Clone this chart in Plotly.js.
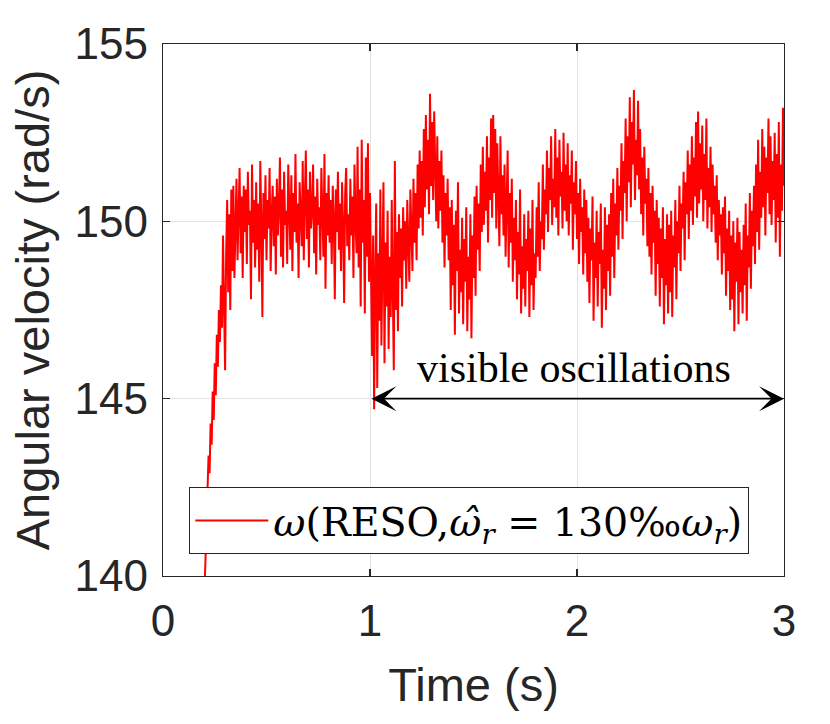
<!DOCTYPE html>
<html>
<head>
<meta charset="utf-8">
<script src="https://cdn.plot.ly/plotly-3.0.1.min.js"></script>
<style>
  html, body { margin: 0; padding: 0; background: #fff; }
  #chart { width: 830px; height: 724px; }
</style>
</head>
<body>
<div id="chart"></div>
<script>
// Sampling of the measured speed (s)
const tStart = 0.18;
const tStep = 0.005;

// rad/s
const riseValues = [134.5, 136.0, 137.2, 138.6, 139.5, 140.4, 141.6, 142.3, 143.4, 142.9, 144.3, 143.7,
  145.2, 144.4, 146.0, 145.1, 146.8, 145.9, 147.5, 146.6, 148.2, 147.0, 149.6, 147.6,
  145.8, 149.1, 150.6, 148.0, 150.2, 147.5, 150.9, 148.6, 151.0, 148.4];

const steadyValues = [
  149.6, 151.2, 148.9, 150.4, 151.5, 149.1, 150.7, 148.4, 151.0, 149.7,
  150.9, 148.8, 151.4, 149.9, 150.3, 147.8, 151.6, 149.4, 150.6, 148.7,
  151.1, 149.2, 150.5, 148.3, 151.7, 150.0, 147.3, 150.8, 149.5, 151.3,
  148.9, 150.6, 149.8, 151.5, 148.6, 150.2, 151.0, 149.3, 150.7, 148.5,
  151.2, 149.6, 150.4, 151.8, 149.0, 150.9, 148.7, 151.4, 149.9, 150.3,
  148.8, 151.6, 150.1, 149.2, 151.3, 148.6, 150.8, 149.7, 151.9, 149.4,
  150.5, 148.4, 151.1, 150.0, 149.3, 151.7, 148.9, 150.6, 152.0, 149.5,
  150.9, 148.7, 151.4, 149.8, 150.3, 151.6, 149.1, 150.7, 148.5, 151.2,
  149.9, 150.4, 148.9, 151.5, 150.2, 149.0, 151.9, 148.1, 150.8, 149.6,
  151.3, 149.4, 150.6, 148.8, 151.0, 150.1, 147.8, 150.9, 149.7, 151.4,
  149.2, 150.5, 148.6, 151.1, 149.9, 147.7, 150.8, 151.5, 149.3, 150.2,
  148.9, 151.2, 149.6, 150.7, 148.4, 151.6, 150.0, 149.1, 152.1, 148.7,
  150.9, 147.6, 152.3, 149.4, 150.6, 147.4, 151.8, 149.0, 152.2, 148.3];

const transitionValues = [
  150.8, 147.9, 146.2, 149.6, 144.7, 148.4, 150.5, 145.3, 149.1, 147.2,
  150.9, 146.5, 148.8, 151.1, 146.0, 149.4, 147.6, 150.3, 146.4, 149.0,
  147.3, 150.6, 148.1, 145.8, 151.7, 147.5, 149.7, 146.9, 150.2, 148.4,
  149.8, 147.6, 150.4, 148.9, 150.0, 148.1, 150.6, 149.2, 148.3, 150.9];

const oscillationValues = [
  149.7, 148.6, 151.2, 149.4, 150.8, 148.9, 151.6, 149.8, 152.0, 150.1,
  151.7, 149.6, 152.6, 150.4, 153.0, 150.9, 152.3, 150.2, 153.6, 151.0,
  152.8, 150.6, 153.1, 151.3, 150.0, 152.4, 149.8, 151.7, 150.3, 152.0,
  149.4, 151.3, 148.7, 150.8, 149.6, 151.2, 148.9, 150.4, 147.5, 150.6,
  148.2, 149.9, 146.8, 150.3, 148.6, 151.1, 147.4, 149.2, 148.0, 150.1,
  147.1, 149.5, 148.3, 150.4, 146.9, 149.0, 147.8, 150.2, 146.7, 149.6,
  148.4, 150.7, 147.9, 151.0, 149.2, 150.5, 148.6, 151.6, 149.7, 152.1,
  149.9, 151.4, 150.3, 152.4, 149.4, 151.8, 150.6, 152.9, 150.1, 153.0,
  150.8, 152.6, 149.8, 152.2, 151.0, 149.3, 152.4, 150.2, 151.3, 149.6,
  151.6, 149.0, 150.5, 152.0, 148.7, 150.8, 149.4, 151.2, 148.3, 150.1,
  148.9, 150.6, 147.8, 149.7, 148.5, 150.9, 147.4, 149.3, 148.1, 150.2,
  147.6, 149.5, 148.6, 150.3, 147.3, 149.8, 148.2, 150.6, 147.5, 149.1,
  148.4, 150.4, 149.0, 151.1, 148.6, 150.0, 149.5, 151.6, 149.2, 150.9,
  150.2, 152.0, 149.7, 151.5, 150.6, 152.4, 149.9, 151.2, 150.4, 152.6,
  150.1, 151.8, 149.6, 152.3, 150.7, 151.4, 149.8, 152.5, 150.3, 151.6,
  150.0, 152.2, 149.6, 151.3, 150.5, 152.0, 149.2, 151.1, 150.2, 151.7,
  149.5, 150.8, 148.8, 151.2, 149.7, 150.4, 148.5, 150.9, 149.1, 150.6,
  148.3, 150.1, 147.7, 149.8, 148.9, 150.7, 147.2, 149.4, 148.4, 150.3,
  147.6, 149.7, 148.8, 150.5, 147.0, 149.2, 148.1, 150.4, 147.5, 149.9,
  148.6, 150.2, 147.9, 150.8, 149.0, 151.2, 148.4, 150.5, 149.6, 151.5,
  149.2, 151.0, 150.3, 152.2, 149.5, 151.7, 150.8, 152.9, 150.0, 152.4,
  151.1, 153.5, 150.4, 152.8, 151.6, 153.7, 150.6, 152.3, 151.3, 153.4,
  150.9, 152.6, 150.2, 151.8, 149.6, 152.1, 150.5, 151.2, 149.3, 151.5,
  149.0, 150.8, 148.5, 151.0, 149.4, 150.3, 147.9, 150.6, 148.8, 150.1,
  147.6, 149.8, 148.4, 150.4, 147.1, 149.5, 148.2, 150.2, 147.4, 149.9,
  148.0, 150.3, 147.3, 149.6, 148.7, 150.6, 147.8, 150.0, 149.1, 151.0,
  148.6, 150.5, 149.8, 151.4, 148.9, 151.1, 150.2, 152.0, 149.5, 151.6,
  150.3, 152.4, 149.9, 151.8, 150.7, 152.8, 150.1, 153.1, 150.5, 152.2,
  150.9, 152.7, 150.0, 151.9, 150.6, 152.9, 149.8, 151.5, 150.4, 152.1,
  149.7, 151.6, 150.2, 151.0, 149.4, 151.3, 148.9, 150.6, 149.6, 150.2,
  148.5, 150.4, 149.1, 150.7, 147.9, 149.8, 148.6, 150.3, 147.5, 149.6,
  147.8, 150.0, 146.9, 149.4, 148.3, 150.1, 147.1, 149.7, 148.0, 149.2,
  147.4, 149.9, 148.2, 150.5, 147.2, 149.6, 148.7, 150.8, 148.1, 150.3,
  149.3, 151.0, 148.8, 151.6, 149.7, 152.3, 149.2, 151.4, 150.1, 152.6,
  150.4, 152.1, 149.6, 151.8, 150.8, 152.9, 150.2, 152.4, 149.9, 151.7,
  150.6, 152.5, 149.4, 151.9, 150.1, 152.8, 149.0, 151.6, 150.3, 153.2, 151.0];

const omega = riseValues.concat(steadyValues, transitionValues, oscillationValues);

const seriesName = '<i>ω</i>(RESO,<i>ω̂</i><sub><i>r</i></sub> = 130‰<i>ω</i><sub><i>r</i></sub>)';
const xLabel = 'Time (s)';
const yLabel = 'Angular velocity (rad/s)';
const xTicks = [0, 1, 2, 3];
const yTicks = [140, 145, 150, 155];
const noteText = 'visible oscillations';
const noteStart = 1, noteEnd = 3, noteLevel = 145;

const axisColor = '#262626';
const tickFont = { family: 'Liberation Sans, Arial, sans-serif', size: 44, color: axisColor };
const titleFont = { family: 'Liberation Sans, Arial, sans-serif', size: 47, color: axisColor };

const trace = {
  type: 'scatter', mode: 'lines',
  x0: tStart, dx: tStep, y: omega,
  name: seriesName,
  line: { color: '#ff0000', width: 2 },
  showlegend: true
};

const layout = {
  width: 830, height: 724,
  margin: { l: 163, r: 46, t: 44, b: 148 },
  paper_bgcolor: '#ffffff', plot_bgcolor: '#ffffff',
  showlegend: true,
  xaxis: {
    range: [0, 3], tickvals: xTicks, ticktext: xTicks.map(String),
    ticks: 'inside', ticklen: 7, tickwidth: 1.2, tickcolor: axisColor,
    showline: true, linecolor: axisColor, linewidth: 1.3, mirror: 'ticks',
    showgrid: true, gridcolor: '#e2e2e2', gridwidth: 1, zeroline: false,
    tickfont: tickFont, ticklabelstandoff: 6,
    title: { text: xLabel, font: titleFont, standoff: 24 }
  },
  yaxis: {
    range: [140, 155], tickvals: yTicks, ticktext: yTicks.map(String),
    ticks: 'inside', ticklen: 7, tickwidth: 1.2, tickcolor: axisColor,
    showline: true, linecolor: axisColor, linewidth: 1.3, mirror: 'ticks',
    showgrid: true, gridcolor: '#e2e2e2', gridwidth: 1, zeroline: false,
    tickfont: tickFont, ticklabelstandoff: 5,
    title: { text: yLabel, font: titleFont, standoff: 10 }
  },
  legend: {
    x: 0.042, y: 0.041, xanchor: 'left', yanchor: 'bottom',
    bgcolor: '#ffffff', bordercolor: axisColor, borderwidth: 1.2,
    font: { family: 'DejaVu Serif, serif', size: 39.5, color: '#000000' },
    itemwidth: 73
  },
  annotations: [
    {
      xref: 'x', yref: 'y', axref: 'x', ayref: 'y',
      x: noteEnd, y: noteLevel, ax: noteStart, ay: noteLevel,
      text: '', showarrow: true, arrowside: 'end+start',
      arrowhead: 3, arrowsize: 2.6, arrowwidth: 1.6, arrowcolor: '#000000'
    },
    {
      xref: 'x', yref: 'y', x: 1.985, y: 145.87,
      text: noteText, showarrow: false, xanchor: 'center', yanchor: 'middle',
      font: { family: 'Liberation Serif, Times New Roman, serif', size: 42, color: '#000000' }
    }
  ]
};

Plotly.newPlot('chart', [trace], layout, { displayModeBar: false, staticPlot: true });
</script>
</body>
</html>
